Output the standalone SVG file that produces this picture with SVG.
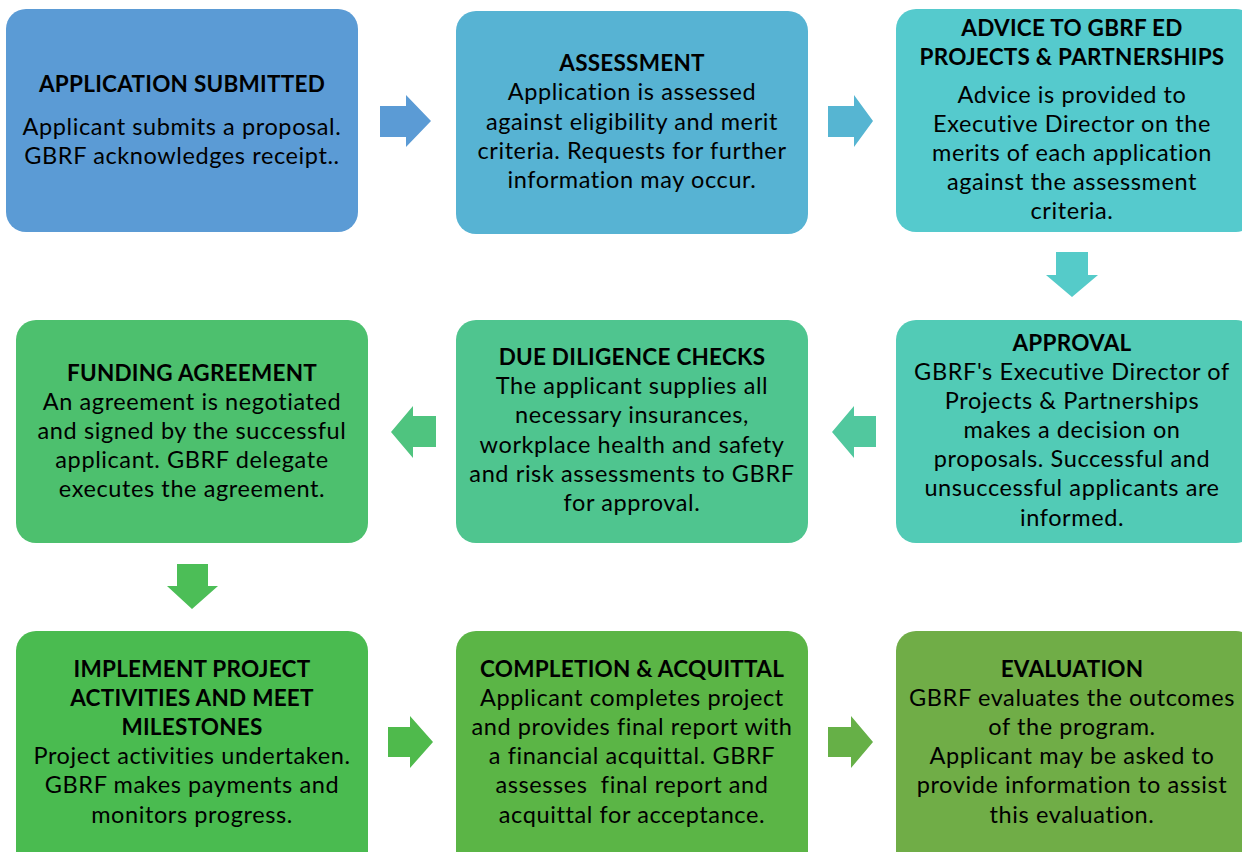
<svg xmlns="http://www.w3.org/2000/svg" width="1242" height="852" viewBox="0 0 1242 852">
<style>
text{font-family:Lato,"Open Sans","Liberation Sans",sans-serif;font-size:23.5px;letter-spacing:0.6px;fill:#000;text-anchor:middle}
.t{font-weight:bold;font-size:22.5px;letter-spacing:0.25px}
</style>
<rect width="1242" height="852" fill="#fff"/>
<g id="connectors">
<polygon points="380,106 406,106 406,95 431,121 406,147 406,137 380,137" fill="#5B9BD5"/>
<polygon points="828,106 854,106 854,95 873,121 854,147 854,137 828,137" fill="#56B5D2"/>
<polygon points="1056,252 1088,252 1088,275 1098,275 1072,297 1046,275 1056,275" fill="#55CBC9"/>
<polygon points="876,416 854,416 854,406 832,432 854,458 854,447 876,447" fill="#51C89E"/>
<polygon points="436,416 413,416 413,406 391,432 413,458 413,447 436,447" fill="#4FC47F"/>
<polygon points="177,564 208,564 208,586 218,586 192,609 167,586 177,586" fill="#4CBE57"/>
<polygon points="388,727 410,727 410,716 433,742 410,768 410,757 388,757" fill="#4FBA4C"/>
<polygon points="828,727 851,727 851,716 873,742 851,768 851,757 828,757" fill="#66B047"/>
</g>
<g id="n1"><rect x="6" y="9" width="352" height="223" rx="20" fill="#5B9BD5"/>
<text class="t" x="182" y="92">APPLICATION SUBMITTED</text>
<text x="182" y="135">Applicant submits a proposal.</text>
<text x="182" y="164">GBRF acknowledges receipt..</text></g>
<g id="n2"><rect x="456" y="11" width="352" height="223" rx="20" fill="#57B3D3"/>
<text class="t" x="632" y="71">ASSESSMENT</text>
<text x="632" y="100">Application is assessed</text>
<text x="632" y="130">against eligibility and merit</text>
<text x="632" y="159">criteria. Requests for further</text>
<text x="632" y="188">information may occur.</text></g>
<g id="n3"><rect x="896" y="9" width="360" height="223" rx="20" fill="#55CACD"/>
<text class="t" x="1072" y="36">ADVICE TO GBRF ED</text>
<text class="t" x="1072" y="65">PROJECTS &amp; PARTNERSHIPS</text>
<text x="1072" y="103">Advice is provided to</text>
<text x="1072" y="132">Executive Director on the</text>
<text x="1072" y="161">merits of each application</text>
<text x="1072" y="190">against the assessment</text>
<text x="1072" y="219">criteria.</text></g>
<g id="n6"><rect x="896" y="320" width="360" height="223" rx="20" fill="#52CBB6"/>
<text class="t" x="1072" y="351">APPROVAL</text>
<text x="1072" y="380">GBRF's Executive Director of</text>
<text x="1072" y="409">Projects &amp; Partnerships</text>
<text x="1072" y="438">makes a decision on</text>
<text x="1072" y="467">proposals. Successful and</text>
<text x="1072" y="496">unsuccessful applicants are</text>
<text x="1072" y="526">informed.</text></g>
<g id="n5"><rect x="456" y="320" width="352" height="223" rx="20" fill="#4FC58F"/>
<text class="t" x="632" y="365">DUE DILIGENCE CHECKS</text>
<text x="632" y="394">The applicant supplies all</text>
<text x="632" y="423">necessary insurances,</text>
<text x="632" y="453">workplace health and safety</text>
<text x="632" y="482">and risk assessments to GBRF</text>
<text x="632" y="511">for approval.</text></g>
<g id="n4"><rect x="16" y="320" width="352" height="223" rx="20" fill="#4DC06E"/>
<text class="t" x="192" y="381">FUNDING AGREEMENT</text>
<text x="192" y="410">An agreement is negotiated</text>
<text x="192" y="439">and signed by the successful</text>
<text x="192" y="468">applicant. GBRF delegate</text>
<text x="192" y="497">executes the agreement.</text></g>
<g id="n7"><rect x="16" y="631" width="352" height="240" rx="20" fill="#4ABB50"/>
<text class="t" x="192" y="677">IMPLEMENT PROJECT</text>
<text class="t" x="192" y="706">ACTIVITIES AND MEET</text>
<text class="t" x="192" y="735">MILESTONES</text>
<text x="192" y="764">Project activities undertaken.</text>
<text x="192" y="793">GBRF makes payments and</text>
<text x="192" y="823">monitors progress.</text></g>
<g id="n8"><rect x="456" y="631" width="352" height="240" rx="20" fill="#5BB546"/>
<text class="t" x="632" y="677">COMPLETION &amp; ACQUITTAL</text>
<text x="632" y="706">Applicant completes project</text>
<text x="632" y="735">and provides final report with</text>
<text x="632" y="764">a financial acquittal. GBRF</text>
<text x="632" y="793" xml:space="preserve">assesses  final report and</text>
<text x="632" y="823">acquittal for acceptance.</text></g>
<g id="n9"><rect x="896" y="631" width="360" height="240" rx="20" fill="#70AD47"/>
<text class="t" x="1072" y="677">EVALUATION</text>
<text x="1072" y="706">GBRF evaluates the outcomes</text>
<text x="1072" y="735">of the program.</text>
<text x="1072" y="764">Applicant may be asked to</text>
<text x="1072" y="793">provide information to assist</text>
<text x="1072" y="823">this evaluation.</text></g>
</svg>
